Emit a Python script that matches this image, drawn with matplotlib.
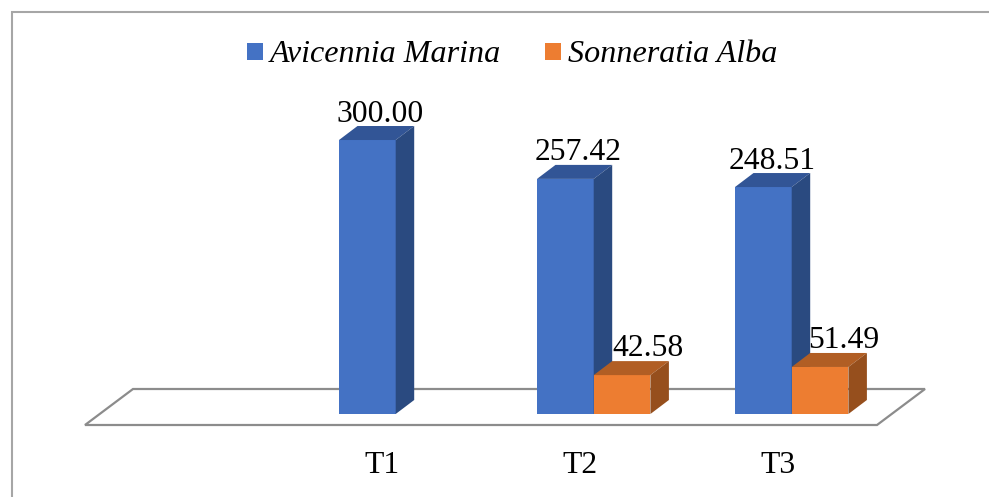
#!/usr/bin/env python3
# Plots stand density per treatment as oblique 3D style columns on a floor

from matplotlib import pyplot as plt
from matplotlib.patches import Patch, Polygon
import numpy as np

categories = ['', 'T1', 'T2', 'T3']
avicennia = [np.nan, 300.00, 257.42, 248.51]
sonneratia = [np.nan, np.nan, 42.58, 51.49]

series_names = ['Avicennia Marina', 'Sonneratia Alba']

# scale of the drawing, in pixels
px_per_cat = 198.0
px_per_unit = 0.9133
x0_px = 184.0
y0_px = 414.0

# everything below is in data units
depth_x = 18.5 / px_per_cat
depth_y = 14.0 / px_per_unit
bar_w = 56.7 / px_per_cat
bar_shift = -43.0 / px_per_cat

blue = ('#4472C4', '#325596', '#2A4A80')
orange = ('#ED7D31', '#B15E24', '#964F1D')
font = 'Liberation Serif'
font_size = 22.8


def draw_column(ax, x, value, colors):
    front, top, side = colors
    w = bar_w
    ax.add_patch(Polygon([(x, 0), (x + w, 0), (x + w, value), (x, value)],
                         fc=front, ec='none', zorder=3))
    ax.add_patch(Polygon([(x, value), (x + w, value),
                          (x + w + depth_x, value + depth_y),
                          (x + depth_x, value + depth_y)],
                         fc=top, ec='none', zorder=3))
    ax.add_patch(Polygon([(x + w, 0), (x + w + depth_x, depth_y),
                          (x + w + depth_x, value + depth_y), (x + w, value)],
                         fc=side, ec='none', zorder=3))


def draw_labels(ax, xs, values, dx, dy):
    for x, v, nudge in zip(xs, values, dx):
        if np.isnan(v):
            continue
        ax.text(x + bar_w / 2 + nudge / px_per_cat, v + dy / px_per_unit,
                '%.2f' % v, ha='center', va='baseline', family=font,
                fontsize=font_size, color='black', zorder=5)


fig = plt.figure(figsize=(9.89, 4.97), dpi=100)
ax = fig.add_axes([0, 0, 1, 1])
ax.set_xlim(-x0_px / px_per_cat, (989 - x0_px) / px_per_cat)
ax.set_ylim((y0_px - 497) / px_per_unit, y0_px / px_per_unit)
ax.axis('off')

# chart frame, cut off by the image on the right and at the bottom
ax.plot([0.0123, 0.0123, 1.0], [0.0, 0.976, 0.976], transform=ax.transAxes,
        color='#A6A6A6', lw=1.5, solid_joinstyle='miter', zorder=1)

# floor
n = len(categories)
floor_front = -11 / px_per_unit
floor_left = -0.5
floor_right = n - 0.5
floor_dx = 48 / px_per_cat
floor_dy = 36 / px_per_unit
ax.add_patch(Polygon([(floor_left, floor_front), (floor_right, floor_front),
                      (floor_right + floor_dx, floor_front + floor_dy),
                      (floor_left + floor_dx, floor_front + floor_dy)],
                     closed=True, fc='white', ec='#8C8C8C', lw=1.6,
                     joinstyle='miter', zorder=2))

xs = np.arange(n)
for x, v in zip(xs + bar_shift, avicennia):
    if not np.isnan(v):
        draw_column(ax, x, v, blue)
for x, v in zip(xs + bar_shift + bar_w, sonneratia):
    if not np.isnan(v):
        draw_column(ax, x, v, orange)

draw_labels(ax, xs + bar_shift, avicennia, [0, 13, 13, 9], 18.5)
draw_labels(ax, xs + bar_shift + bar_w, sonneratia, [0, 0, 26, 24], 19)

# category labels under the floor
for x, c in zip(xs, categories):
    ax.text(x, -59 / px_per_unit, c, ha='center', va='baseline', family=font,
            fontsize=font_size, color='black')

handles = [Patch(fc=blue[0], ec='none', label=series_names[0]),
           Patch(fc=orange[0], ec='none', label=series_names[1])]
leg = ax.legend(handles=handles, ncol=2, loc='center', frameon=False,
                bbox_to_anchor=(512 / 989, 1 - 55 / 497),
                prop={'family': font, 'style': 'italic', 'size': 23.1},
                handlelength=0.5, handleheight=0.44, handletextpad=0.22,
                columnspacing=1.36, borderpad=0, borderaxespad=0)

fig.savefig('out.png', dpi=100)
